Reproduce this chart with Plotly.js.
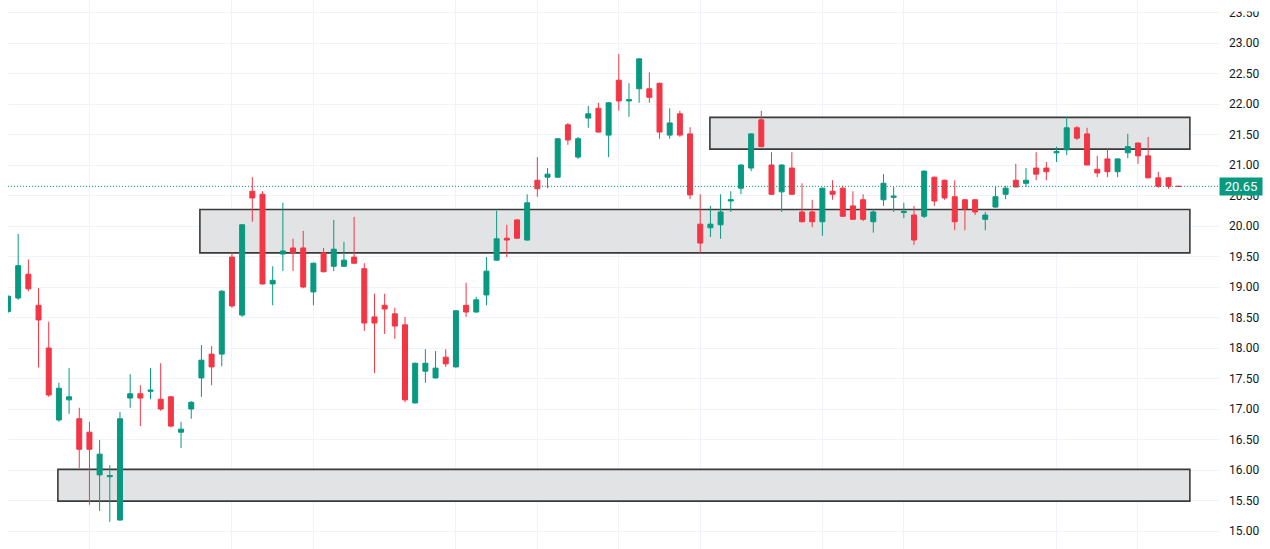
<!DOCTYPE html>
<html>
<head>
<meta charset="utf-8">
<script src="https://cdn.plot.ly/plotly-3.0.1.min.js"></script>
<style>html,body{margin:0;padding:0;background:#fff;}#chart{width:1270px;height:549px;}</style>
</head>
<body>
<div id="chart"></div>
<script>
// OHLC data, one candle per session
const opens  = [18.60,18.82,19.21,18.70,18.00,16.82,17.15,16.84,16.62,15.92,15.89,15.18,17.18,17.25,17.29,17.16,17.20,16.62,17.00,17.51,
                17.90,17.90,19.49,18.54,20.57,20.52,19.05,19.54,19.64,19.64,18.92,19.56,19.34,19.34,19.49,19.30,18.51,18.70,18.56,18.38,
                17.10,17.62,17.51,17.85,17.69,18.70,18.59,18.87,19.44,19.80,20.10,19.77,20.75,20.80,20.80,21.66,21.13,21.77,21.93,21.49,
                22.39,22.05,22.25,22.25,22.34,21.49,21.84,21.51,20.03,19.97,20.02,20.41,20.62,20.95,21.74,21.00,20.56,20.95,20.23,20.23,
                20.07,20.57,20.62,20.33,20.43,20.07,20.43,20.47,20.22,20.18,20.16,20.80,20.75,20.48,20.43,20.43,20.11,20.31,20.52,20.75,
                20.70,20.95,20.95,21.20,21.25,21.61,21.51,20.93,21.10,20.89,21.20,21.36,21.15,20.79,20.79,20.65];
const highs  = [18.86,19.87,19.45,18.98,18.43,17.43,17.67,17.02,16.79,16.49,16.08,16.95,17.57,17.39,17.67,17.75,17.21,16.79,17.13,18.05,
                18.03,18.95,19.57,20.03,20.80,20.57,19.34,20.38,19.79,19.92,19.40,19.64,20.10,19.74,20.15,19.39,18.89,18.89,18.66,18.51,
                17.76,17.98,17.95,17.98,18.62,19.07,18.84,19.49,20.25,20.02,20.11,20.52,21.13,20.95,21.44,21.69,21.46,21.97,22.02,22.03,
                22.82,22.34,22.75,22.52,22.35,21.93,21.89,21.62,20.52,20.33,20.52,20.57,21.01,21.52,21.89,21.21,21.01,21.21,20.70,20.43,
                20.63,20.75,20.66,20.57,20.52,20.28,20.85,20.64,20.38,20.33,20.91,20.81,20.76,20.75,20.44,20.44,20.23,20.64,20.66,21.02,
                20.95,21.21,21.05,21.30,21.79,21.64,21.61,21.15,21.26,21.11,21.51,21.37,21.46,20.89,20.80,20.65];
const lows   = [18.57,18.79,18.93,17.68,17.20,16.79,16.92,16.03,15.43,15.33,15.15,15.17,17.02,16.72,17.16,16.97,16.70,16.36,16.84,17.20,
                17.39,17.70,18.66,18.51,20.07,19.04,18.70,19.26,19.26,18.98,18.70,19.24,19.26,19.33,19.38,18.28,17.59,18.23,18.15,17.11,
                17.09,17.43,17.50,17.69,17.68,18.51,18.58,18.70,19.43,19.49,19.79,19.76,20.48,20.62,20.79,21.33,21.10,21.61,21.53,21.13,
                21.89,21.79,22.02,22.02,21.43,21.43,21.46,20.44,19.56,19.82,19.79,20.23,20.52,20.90,21.29,20.51,20.23,20.51,20.06,19.98,
                19.84,20.43,20.15,20.10,20.08,19.89,20.33,20.23,20.13,19.69,20.13,20.33,20.43,19.93,19.93,20.18,19.93,20.30,20.44,20.63,
                20.64,20.75,20.75,21.05,21.16,21.41,21.00,20.80,20.80,20.80,21.11,21.02,20.78,20.63,20.61,20.65];
const closes = [18.85,19.35,18.97,18.46,17.23,17.34,17.20,16.34,16.34,16.26,15.91,16.84,17.25,17.18,17.31,17.00,16.72,16.67,17.11,17.80,
                17.69,18.93,18.69,20.02,20.46,19.05,19.11,19.59,19.56,19.00,19.39,19.25,19.62,19.44,19.39,18.41,18.41,18.64,18.36,17.15,
                17.75,17.75,17.67,17.74,18.61,18.59,18.79,19.26,19.79,19.77,19.80,20.38,20.61,20.85,21.43,21.41,21.43,21.84,21.54,22.02,
                22.05,22.07,22.74,22.11,21.54,21.69,21.49,20.51,19.72,20.03,20.23,20.43,21.00,21.51,21.30,20.52,21.00,20.52,20.07,20.07,
                20.62,20.52,20.16,20.11,20.11,20.23,20.70,20.49,20.24,19.77,20.90,20.41,20.46,20.07,20.28,20.23,20.18,20.48,20.62,20.64,
                20.75,20.85,20.89,21.22,21.61,21.44,21.00,20.87,20.89,21.10,21.30,21.15,20.79,20.65,20.65,20.65];
const sessionIndex = opens.map((_, i) => i);

// Vertical grid lines (session indices where the original time-axis ticks fall)
const timeGridSessions = [8, 22, 30, 44, 52, 60, 68, 80, 88, 103, 111];
// Price axis tick labels
const priceTicks = [15.0,15.5,16.0,16.5,17.0,17.5,18.0,18.5,19.0,19.5,20.0,20.5,21.0,21.5,22.0,22.5,23.0,23.5];
// Horizontal zones: [start session, end session, low price, high price]
const zoneStarts = [4.9, 18.85, 68.95];
const zoneEnds   = [116.1, 116.1, 116.1];
const zoneLows   = [15.49, 19.56, 21.26];
const zoneHighs  = [16.01, 20.27, 21.78];
const lastPrice = 20.65;

const UP = '#089981', DOWN = '#F23645';

const trace = {
  type: 'candlestick',
  x: sessionIndex, open: opens, high: highs, low: lows, close: closes,
  increasing: {line: {color: UP, width: 1}, fillcolor: UP},
  decreasing: {line: {color: DOWN, width: 1}, fillcolor: DOWN},
  whiskerwidth: 0,
  hoverinfo: 'skip',
  showlegend: false
};

const shapes = [];
for (let k = 0; k < zoneStarts.length; k++) {
  shapes.push({
    type: 'rect', xref: 'x', yref: 'y', layer: 'between',
    x0: zoneStarts[k], x1: zoneEnds[k], y0: zoneLows[k], y1: zoneHighs[k],
    fillcolor: '#e2e3e5', line: {color: '#3a3a3a', width: 1.6}
  });
}
shapes.push({
  type: 'line', xref: 'paper', yref: 'y', layer: 'above',
  x0: 0, x1: 1, y0: lastPrice, y1: lastPrice,
  line: {color: UP, width: 1, dash: '1px,2px'}
});

const layout = {
  width: 1270, height: 549,
  margin: {l: 8, r: 51, t: 0, b: 0, pad: 0},
  paper_bgcolor: '#ffffff', plot_bgcolor: '#ffffff',
  showlegend: false,
  dragmode: false,
  xaxis: {
    type: 'linear', range: [0, 118.96],
    rangeslider: {visible: false},
    showticklabels: false, ticks: '',
    tickmode: 'array', tickvals: timeGridSessions,
    showgrid: true, gridcolor: '#f0f3fa', gridwidth: 1,
    zeroline: false, showline: false, fixedrange: true
  },
  yaxis: {
    side: 'right', range: [14.705, 23.705],
    tickmode: 'array', tickvals: priceTicks, tickformat: '.2f',
    ticks: '', ticklabelstandoff: 9,
    tickfont: {family: 'Roboto, "Open Sans", sans-serif', size: 12, color: '#131722'},
    showgrid: true, gridcolor: '#f0f3fa', gridwidth: 1,
    zeroline: false, showline: false, fixedrange: true
  },
  shapes: shapes,
  annotations: [{
    xref: 'paper', yref: 'y', x: 1, y: lastPrice,
    xanchor: 'left', yanchor: 'middle',
    text: lastPrice.toFixed(2), showarrow: false,
    font: {family: 'Roboto, "Open Sans", sans-serif', size: 13, color: '#ffffff'},
    bgcolor: UP, borderpad: 2, width: 38, height: 13, align: 'center'
  }, {
    // the top tick label is cut by the window edge in the original
    xref: 'paper', yref: 'paper', x: 1.002, y: 1,
    xanchor: 'left', yanchor: 'top',
    text: ' ', showarrow: false,
    bgcolor: '#ffffff', borderpad: 0, width: 50, height: 10
  }]
};

Plotly.newPlot('chart', [trace], layout, {displayModeBar: false, staticPlot: true});
</script>
</body>
</html>
